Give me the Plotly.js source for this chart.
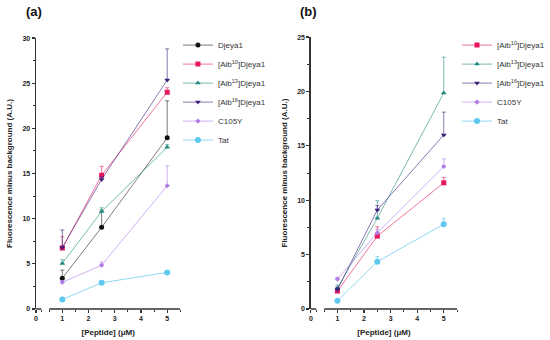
<!DOCTYPE html>
<html>
<head>
<meta charset="utf-8">
<script src="https://cdn.plot.ly/plotly-3.0.1.min.js"></script>
<style>html,body{margin:0;padding:0;background:#fff}#chart{width:550px;height:340px}</style>
</head>
<body>
<div id="chart"></div>
<script>
// x values (µM)
const conc = [1, 2.5, 5];

// Panel (a) means and upper error
const aNames = ['Djeya1', '[Aib<sup>10</sup>]Djeya1', '[Aib<sup>13</sup>]Djeya1', '[Aib<sup>16</sup>]Djeya1', 'C105Y', 'Tat'];
const aDjeya1 = [3.4, 9.05, 18.95];
const aDjeya1Err = [0.9, 1.9, 4.1];
const aAib10 = [6.75, 14.8, 24.0];
const aAib10Err = [1.25, 1.0, 0.5];
const aAib13 = [5.05, 10.8, 17.9];
const aAib13Err = [0.4, 0.4, 0.3];
const aAib16 = [6.8, 14.35, 25.35];
const aAib16Err = [1.95, 0.3, 3.45];
const aC105Y = [2.95, 4.85, 13.65];
const aC105YErr = [0.2, 0.35, 2.2];
const aTat = [1.05, 2.9, 4.05];
const aTatErr = [0.1, 0.1, 0.1];

// Panel (b)
const bNames = ['[Aib<sup>10</sup>]Djeya1', '[Aib<sup>13</sup>]Djeya1', '[Aib<sup>16</sup>]Djeya1', 'C105Y', 'Tat'];
const bAib10 = [1.65, 6.7, 11.6];
const bAib10Err = [0.3, 0.85, 0.5];
const bAib13 = [1.9, 8.35, 19.85];
const bAib13Err = [0.3, 1.6, 3.3];
const bAib16 = [1.8, 9.1, 16.0];
const bAib16Err = [0.2, 0.4, 2.1];
const bC105Y = [2.75, 7.0, 13.1];
const bC105YErr = [0.15, 0.3, 0.7];
const bTat = [0.75, 4.35, 7.8];
const bTatErr = [0.1, 0.45, 0.5];

const xTickVals = [0, 1, 2, 3, 4, 5];
const xMinorVals = [0.2, 0.5, 1.5, 2.5, 3.5, 4.5, 5.5];

const styles = {
  'Djeya1': {c: '#111111', l: 'rgba(17,17,17,0.55)', s: 'circle', z: 5},
  'Aib10': {c: '#e8175d', l: 'rgba(232,23,93,0.6)', s: 'square', z: 5},
  'Aib13': {c: '#1f8a7f', l: 'rgba(31,138,127,0.6)', s: 'triangle-up', z: 5},
  'Aib16': {c: '#3b1e7a', l: 'rgba(59,30,122,0.6)', s: 'triangle-down', z: 5},
  'C105Y': {c: '#b07be6', l: 'rgba(176,123,230,0.6)', s: 'diamond', z: 4},
  'Tat': {c: '#5ec8ef', l: 'rgba(94,200,239,0.7)', s: 'circle', z: 6}
};

function tr(name, key, y, err, xa, ya, leg) {
  const st = styles[key];
  return {
    type: 'scatter', mode: 'lines+markers', name: name,
    x: conc, y: y, xaxis: xa, yaxis: ya, legend: leg,
    line: {color: st.l, width: 1},
    marker: {color: st.c, symbol: st.s, size: st.z},
    error_y: {type: 'data', symmetric: false, array: err, arrayminus: err.map(() => 0),
              color: st.l, thickness: 1, width: 2}
  };
}

const data = [
  tr(aNames[0], 'Djeya1', aDjeya1, aDjeya1Err, 'x', 'y', 'legend'),
  tr(aNames[1], 'Aib10', aAib10, aAib10Err, 'x', 'y', 'legend'),
  tr(aNames[2], 'Aib13', aAib13, aAib13Err, 'x', 'y', 'legend'),
  tr(aNames[3], 'Aib16', aAib16, aAib16Err, 'x', 'y', 'legend'),
  tr(aNames[4], 'C105Y', aC105Y, aC105YErr, 'x', 'y', 'legend'),
  tr(aNames[5], 'Tat', aTat, aTatErr, 'x', 'y', 'legend'),
  tr(bNames[0], 'Aib10', bAib10, bAib10Err, 'x2', 'y2', 'legend2'),
  tr(bNames[1], 'Aib13', bAib13, bAib13Err, 'x2', 'y2', 'legend2'),
  tr(bNames[2], 'Aib16', bAib16, bAib16Err, 'x2', 'y2', 'legend2'),
  tr(bNames[3], 'C105Y', bC105Y, bC105YErr, 'x2', 'y2', 'legend2'),
  tr(bNames[4], 'Tat', bTat, bTatErr, 'x2', 'y2', 'legend2')
];

const fam = 'Liberation Sans, Arial, sans-serif';
const tickFont = {family: fam, size: 7, color: '#222', weight: 'bold'};
const titleFont = {family: fam, size: 8, color: '#222', weight: 'bold'};
const legFont = {family: fam, size: 8, color: '#333'};

function xAxis(dom) {
  return {
    domain: dom, range: [0, 5.5], showgrid: false, zeroline: false, showline: false,
    tickmode: 'array', tickvals: xTickVals, ticks: 'outside', ticklen: 3, tickwidth: 1.2, tickcolor: '#333',
    minor: {tickmode: 'array', tickvals: xMinorVals, ticks: 'outside', ticklen: 2, tickwidth: 1, tickcolor: '#333'},
    tickfont: tickFont,
    title: {text: '[Peptide] (μM)', font: titleFont, standoff: 8}
  };
}
function yAxis(dom, max, anchor) {
  return {
    domain: dom, range: [0, max], anchor: anchor, showgrid: false, zeroline: false,
    showline: true, linecolor: '#333', linewidth: 1.5,
    dtick: 5, ticks: 'outside', ticklen: 3, tickwidth: 1.2, tickcolor: '#333',
    minor: {dtick: 2.5, ticks: 'outside', ticklen: 2, tickwidth: 1, tickcolor: '#333'},
    tickfont: tickFont,
    title: {text: 'Fluorescence minus background (A.U.)', font: titleFont, standoff: 8}
  };
}

const axLine = {color: '#333', width: 1.5};
const layout = {
  width: 550, height: 340,
  margin: {l: 0, r: 0, t: 0, b: 0},
  paper_bgcolor: '#fff', plot_bgcolor: '#fff',
  xaxis: Object.assign(xAxis([0.0673, 0.3364]), {anchor: 'y'}),
  yaxis: yAxis([0.0912, 0.888], 30, 'x'),
  xaxis2: Object.assign(xAxis([0.58, 0.8527]), {anchor: 'y2'}),
  yaxis2: yAxis([0.0912, 0.891], 25, 'x2'),
  legend: {x: 0.332, y: 0.91, xanchor: 'left', yanchor: 'top', font: legFont, bgcolor: 'rgba(0,0,0,0)', itemwidth: 30, tracegroupgap: 0},
  legend2: {x: 0.853, y: 0.91, xanchor: 'left', yanchor: 'top', font: legFont, bgcolor: 'rgba(0,0,0,0)', itemwidth: 30, tracegroupgap: 0},
  shapes: [
    {type: 'line', xref: 'x', yref: 'y domain', x0: 0, x1: 0.2, y0: 0, y1: 0, line: axLine},
    {type: 'line', xref: 'x', yref: 'y domain', x0: 0.5, x1: 5.5, y0: 0, y1: 0, line: axLine},
    {type: 'line', xref: 'x2', yref: 'y2 domain', x0: 0, x1: 0.2, y0: 0, y1: 0, line: axLine},
    {type: 'line', xref: 'x2', yref: 'y2 domain', x0: 0.5, x1: 5.5, y0: 0, y1: 0, line: axLine}
  ],
  annotations: [
    {text: '(a)', xref: 'paper', yref: 'paper', x: 35 / 550, y: 1 - 12 / 340, xanchor: 'center', yanchor: 'middle', showarrow: false,
     font: {family: fam, size: 13, color: '#111', weight: 'bold'}},
    {text: '(b)', xref: 'paper', yref: 'paper', x: 317 / 550, y: 1 - 12 / 340, xanchor: 'center', yanchor: 'middle', showarrow: false,
     font: {family: fam, size: 13, color: '#111', weight: 'bold'}}
  ]
};

Plotly.newPlot('chart', data, layout, {displayModeBar: false, staticPlot: true});
</script>
</body>
</html>
